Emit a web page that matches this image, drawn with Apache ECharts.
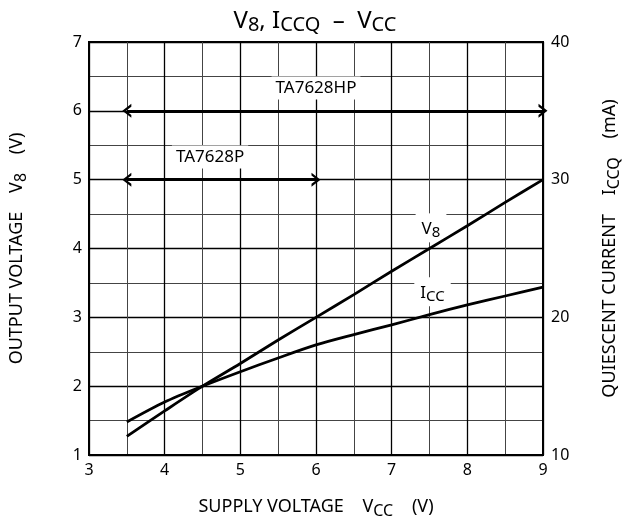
<!DOCTYPE html>
<html>
<head>
<meta charset="utf-8">
<script src="https://cdn.jsdelivr.net/npm/echarts@6/dist/echarts.min.js"></script>
<style>
  html, body { margin: 0; padding: 0; background: #fff; }
  #chart { width: 630px; height: 525px; }
</style>
</head>
<body>
<div id="chart"></div>
<script>
  // supply voltage points (V)
  const vcc = [3.5, 4, 4.5, 5, 5.5, 6, 6.5, 7, 7.5, 8, 8.5, 9];
  // output voltage V8 (V), left axis
  const v8 = [1.27, 1.64, 2.0, 2.33, 2.67, 3.0, 3.33, 3.67, 4.0, 4.33, 4.67, 5.0];
  // quiescent current ICCQ (mA), right axis
  const iccq = [12.4, 13.85, 15.0, 16.05, 17.05, 18.0, 18.75, 19.45, 20.2, 20.9, 21.55, 22.2];

  // operating ranges (from, to) and the level they are drawn at
  const hpRange = [3.5, 9];
  const hpLevel = 6;
  const pRange = [3.5, 6];
  const pLevel = 5;

  const font = 'Noto Sans';
  const chevron = 'path://M0,10 L7,0 L14,10 L11.2,10 L7,4 L2.8,10 Z';
  const nameRich = {
    n: { fontSize: 18, fontFamily: font, color: '#000' },
    s: { fontSize: 16, fontFamily: font, color: '#000', padding: [8, 0, 0, 0] }
  };
  const labelRich = {
    n: { fontSize: 17, fontFamily: font, color: '#000' },
    s: { fontSize: 15, fontFamily: font, color: '#000', padding: [8, 0, 0, 0] }
  };

  const chart = echarts.init(document.getElementById('chart'));

  const option = {
    backgroundColor: '#fff',
    animation: false,
    title: {
      text: '{n|V}{s|8}{n|, I}{s|CCQ}{n|  –  V}{s|CC}',
      left: 'center',
      top: 2,
      textStyle: {
        rich: {
          n: { fontSize: 24, fontFamily: font, fontWeight: 'normal', color: '#000' },
          s: { fontSize: 20, fontFamily: font, fontWeight: 'normal', color: '#000', padding: [8, 0, 0, 0] }
        }
      }
    },
    grid: {
      left: 88, right: 83, top: 42, bottom: 70,
      show: true, borderColor: '#000', borderWidth: 2, backgroundColor: '#fff'
    },
    xAxis: {
      type: 'value', min: 3, max: 9, interval: 1,
      name: '{n|SUPPLY VOLTAGE    V}{s|CC}{n|    (V)}',
      nameLocation: 'middle', nameGap: 40,
      nameTextStyle: { rich: nameRich },
      axisLine: { lineStyle: { color: '#000', width: 2 } },
      axisTick: { show: false },
      axisLabel: { color: '#000', fontSize: 16, fontFamily: font, margin: 7 },
      splitLine: { show: true, lineStyle: { color: '#000', width: 1.3 } },
      minorTick: { show: false, splitNumber: 2 },
      minorSplitLine: { show: true, lineStyle: { color: '#444', width: 1 } }
    },
    yAxis: [
      {
        type: 'value', min: 1, max: 7, interval: 1,
        name: '{n|OUTPUT VOLTAGE    V}{s|8}{n|    (V)}',
        nameLocation: 'middle', nameGap: 60, nameRotate: 90,
        nameTextStyle: { rich: nameRich },
        axisLine: { show: true, lineStyle: { color: '#000', width: 2 } },
        axisTick: { show: false },
        axisLabel: { color: '#000', fontSize: 16, fontFamily: font, margin: 7 },
        splitLine: { show: true, lineStyle: { color: '#000', width: 1.3 } },
        minorTick: { show: false, splitNumber: 2 },
        minorSplitLine: { show: true, lineStyle: { color: '#444', width: 1 } }
      },
      {
        type: 'value', min: 10, max: 40, interval: 10, position: 'right',
        name: '{n|QUIESCENT CURRENT    I}{s|CCQ}{n|    (mA)}',
        nameLocation: 'middle', nameGap: 55, nameRotate: 90,
        nameTextStyle: { rich: nameRich },
        axisLine: { show: true, lineStyle: { color: '#000', width: 2 } },
        axisTick: { show: false },
        axisLabel: { color: '#000', fontSize: 16, fontFamily: font, margin: 8 },
        splitLine: { show: false }
      }
    ],
    series: [
      {
        name: 'V8', type: 'line', yAxisIndex: 0,
        data: vcc.map((x, i) => [x, v8[i]]),
        showSymbol: false, smooth: 0.3,
        lineStyle: { color: '#000', width: 2.8 },
        z: 3,
        markLine: {
          silent: true,
          symbol: [chevron, chevron],
          symbolSize: [14, 9],
          lineStyle: { color: '#000', width: 2.8, type: 'solid' },
          label: { show: false },
          data: [
            [{ coord: [hpRange[0], hpLevel] }, { coord: [hpRange[1], hpLevel] }],
            [{ coord: [pRange[0], pLevel] }, { coord: [pRange[1], pLevel] }]
          ]
        },
        markPoint: {
          silent: true,
          z: 2,
          symbolSize: 0,
          label: {
            show: true, color: '#000', fontFamily: font, fontSize: 17,
            backgroundColor: '#fff', padding: [3, 4]
          },
          data: [
            { coord: [6.0, 6.33], value: 'TA7628HP', label: { formatter: 'TA7628HP' } },
            { coord: [4.6, 5.33], value: 'TA7628P', label: { formatter: 'TA7628P' } },
            {
              coord: [7.52, 4.3], value: 'V8',
              label: { formatter: '{n|V}{s|8}', padding: [4, 6, 2, 6], rich: labelRich }
            }
          ]
        }
      },
      {
        name: 'ICCQ', type: 'line', yAxisIndex: 1,
        data: vcc.map((x, i) => [x, iccq[i]]),
        showSymbol: false, smooth: 0.3,
        lineStyle: { color: '#000', width: 2.8 },
        z: 3,
        markPoint: {
          silent: true,
          z: 2,
          symbolSize: 0,
          data: [
            {
              coord: [7.54, 21.85], value: 'ICC',
              label: {
                show: true, formatter: '{n|I}{s|CC}', backgroundColor: '#fff',
                padding: [4, 6, 2, 6], rich: labelRich
              }
            }
          ]
        }
      }
    ]
  };

  chart.setOption(option);
</script>
</body>
</html>
